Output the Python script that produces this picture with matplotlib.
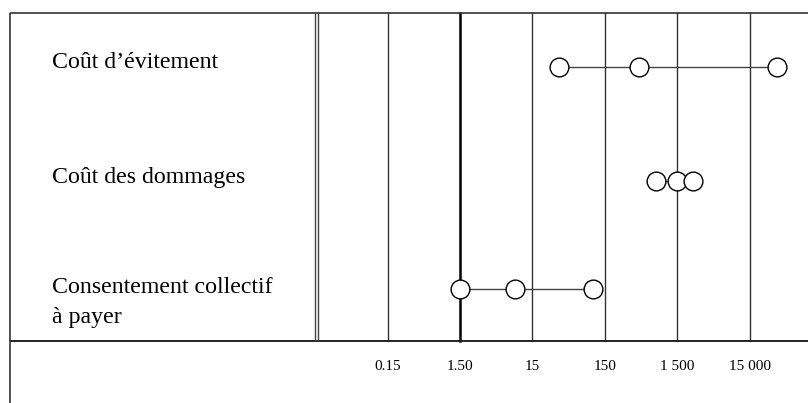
import numpy as np
import matplotlib.pyplot as plt
from matplotlib.lines import Line2D

# data (log scale)
categories = ['Coût d\u2019évitement', 'Coût des dommages',
              'Consentement collectif\nà payer']
avoid_cost = [35, 450, 36000]
damage_cost = [760, 1500, 2480]
willingness = [1.5, 8.6, 103]
tick_values = [0.15, 1.5, 15, 150, 1500, 15000]
tick_labels = ['0.15', '1.50', '15', '150', '1 500', '15 000']

W, H = 808, 403
plt.rcParams['font.family'] = ['Liberation Serif', 'DejaVu Serif']

fig = plt.figure(figsize=(W / 100, H / 100), dpi=100)
ax = fig.add_axes([0, 0, 1, 1])
ax.set_xscale('log')
# 1.50 sits at x=460 px, one decade = 72.4 px
dec = 72.4
ax.set_xlim(1.5 * 10 ** (-460 / dec), 1.5 * 10 ** ((W - 460) / dec))
ax.set_ylim(H, 0)
ax.axis('off')


def fx(px):
    return px / W


def fy(py):
    return 1 - py / H


def fline(x0, y0, x1, y1, lw=1.0, color='black'):
    fig.add_artist(Line2D([fx(x0), fx(x1)], [fy(y0), fy(y1)], lw=lw,
                          color=color, solid_capstyle='butt'))


top, base = 13, 341
# frame
fline(9.5, top, W, top, lw=1.2, color='#333333')
fline(9.5, base, W, base, lw=1.4, color='#222222')
fline(9.5, top, 9.5, H, lw=1.2, color='#333333')
fline(315, top, 315, base, lw=1.0, color='#444444')
fline(317.5, top, 317.5, base, lw=1.0, color='#444444')

# decade lines
for v, lab in zip(tick_values, tick_labels):
    lw = 1.8 if v == 1.5 else 1.0
    ax.plot([v, v], [top, base], color='black' if v == 1.5 else '#333333',
            lw=lw, zorder=1)
    ax.text(v, 366, lab, ha='center', va='center', fontsize=11)

rows_y = [67, 181, 289]
series = [avoid_cost, damage_cost, willingness]
for y, vals in zip(rows_y, series):
    ax.plot(vals, [y] * len(vals), color='#444444', lw=1.0, zorder=2)
    ax.plot(vals, [y] * len(vals), 'o', ms=13.5, mfc='white', mec='black',
            mew=1.0, zorder=3, ls='none')

baselines = [68, 183, 293]
for cat, yb in zip(categories, baselines):
    lines = cat.split('\n')
    for i, ln in enumerate(lines):
        fig.text(fx(52), fy(yb + i * 30), ln, ha='left', va='baseline',
                 fontsize=17.2)

fig.savefig('out.png', dpi=100)
